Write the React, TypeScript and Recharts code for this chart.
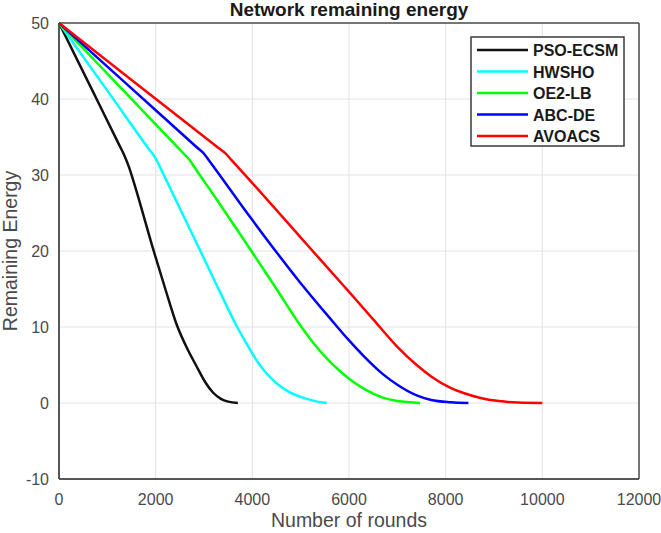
import React from "react";
import { LineChart, Line, XAxis, YAxis, CartesianGrid, Legend } from "recharts";

// ---- data ----
const ROUND_TICKS = [0, 2000, 4000, 6000, 8000, 10000, 12000];
const ENERGY_TICKS = [-10, 0, 10, 20, 30, 40, 50];

const SERIES_NAMES = ["PSO-ECSM", "HWSHO", "OE2-LB", "ABC-DE", "AVOACS"];
const SERIES_COLORS = ["#111111", "#00ffff", "#00ff00", "#0000ff", "#ff0000"];

const psoEcsmRounds = [0, 700, 1250, 1350, 1450, 1550, 1950, 2200, 2430, 2650, 2840, 3020, 3190, 3350, 3500, 3700];
const psoEcsmEnergy = [50, 41.0, 33.9, 32.6, 31.0, 29.0, 20.2, 15.0, 10.4, 7.2, 4.9, 2.8, 1.35, 0.55, 0.18, 0];

const hwshoRounds = [0, 1000, 1850, 2000, 2100, 2910, 3300, 3670, 3900, 4090, 4300, 4500, 4750, 5000, 5300, 5540];
const hwshoEnergy = [50, 41.1, 33.5, 32.2, 30.9, 20.2, 15.0, 10.2, 7.6, 5.6, 3.85, 2.6, 1.5, 0.8, 0.25, 0];

const oe2LbRounds = [0, 1350, 2550, 2700, 2800, 3260, 3980, 4500, 4984, 5300, 5640, 6000, 6330, 6700, 7000, 7470];
const oe2LbEnergy = [50, 41, 33, 32, 31.05, 26.8, 20.0, 15.0, 10.3, 7.6, 5.2, 3.2, 1.8, 0.7, 0.25, 0];

const abcDeRounds = [0, 1500, 2850, 3000, 3100, 3950, 4984, 5600, 6020, 6300, 6700, 7000, 7400, 7700, 8100, 8470];
const abcDeEnergy = [50, 41.4, 33.65, 32.8, 31.95, 24.5, 15.9, 11.2, 8.1, 6.2, 3.8, 2.4, 1.0, 0.4, 0.1, 0];

const avoacsRounds = [0, 1700, 3300, 3450, 3550, 3950, 4984, 5500, 6020, 6500, 7000, 7400, 7700, 8100, 8400, 8700, 9100, 9500, 10000];
const avoacsEnergy = [50, 41.5, 33.55, 32.8, 32.1, 29.3, 21.9, 18.2, 14.5, 11.0, 7.4, 5.0, 3.5, 2.0, 1.25, 0.7, 0.25, 0.06, 0];

const toPoints = (rounds: number[], energy: number[]) =>
  rounds.map((round, i) => ({ round, energy: energy[i] }));

const SERIES_DATA = [
  toPoints(psoEcsmRounds, psoEcsmEnergy),
  toPoints(hwshoRounds, hwshoEnergy),
  toPoints(oe2LbRounds, oe2LbEnergy),
  toPoints(abcDeRounds, abcDeEnergy),
  toPoints(avoacsRounds, avoacsEnergy),
];

const FONT = "'Liberation Sans', Arial, Helvetica, sans-serif";
const AXIS_COLOR = "#4d4d4d";
const TEXT_COLOR = "#4a4a4a";

const EmptyTick = () => <g />;

const LegendBox = () => (
  <svg width={156} height={112} style={{ display: "block" }}>
    <rect x={1} y={1} width={153} height={109} fill="#ffffff" stroke="#3a3a3a" strokeWidth={1.5} />
    {SERIES_NAMES.map((name, i) => {
      const cy = 14 + i * 21.5;
      return (
        <g key={name}>
          <line x1={7} x2={58} y1={cy} y2={cy} stroke={SERIES_COLORS[i]} strokeWidth={2.5} />
          <text x={63} y={cy + 6} fontFamily={FONT} fontWeight="bold" fontSize={16} fill="#1a1a1a">
            {name}
          </text>
        </g>
      );
    })}
  </svg>
);

export default function App() {
  return (
    <div style={{ position: "absolute", left: 0, top: 0, background: "#fff" }}>
      <LineChart
        width={661}
        height={533}
        margin={{ top: 23, right: 22, bottom: 0, left: 0 }}
        style={{ fontFamily: FONT }}
      >
        <CartesianGrid stroke="#e2e2e2" strokeWidth={1} />
        <XAxis
          dataKey="round"
          type="number"
          domain={[0, 12000]}
          ticks={ROUND_TICKS}
          height={54}
          tickLine={false}
          tickSize={0}
          tickMargin={15}
          stroke={AXIS_COLOR}
          strokeWidth={1.5}
          tick={{ fill: TEXT_COLOR, fontSize: 16, fontFamily: FONT }}
          label={{
            value: "Number of rounds",
            position: "insideBottom",
            offset: 6,
            fill: TEXT_COLOR,
            fontSize: 19.5,
            fontFamily: FONT,
          }}
        />
        <XAxis
          xAxisId="bottomTicks"
          dataKey="round"
          type="number"
          domain={[0, 12000]}
          ticks={ROUND_TICKS}
          orientation="bottom"
          mirror
          tick={EmptyTick}
          tickSize={6}
          stroke={AXIS_COLOR}
          strokeWidth={1.5}
        />
        <XAxis
          xAxisId="topTicks"
          dataKey="round"
          type="number"
          domain={[0, 12000]}
          ticks={ROUND_TICKS}
          orientation="top"
          mirror
          tick={EmptyTick}
          tickSize={6}
          stroke={AXIS_COLOR}
          strokeWidth={1.5}
        />
        <YAxis
          type="number"
          domain={[-10, 50]}
          ticks={ENERGY_TICKS}
          width={59}
          tickLine={false}
          tickSize={0}
          tickMargin={10}
          stroke={AXIS_COLOR}
          strokeWidth={1.5}
          tick={{ fill: TEXT_COLOR, fontSize: 16, fontFamily: FONT }}
          label={{
            value: "Remaining Energy",
            angle: -90,
            position: "insideLeft",
            offset: 10,
            fill: TEXT_COLOR,
            fontSize: 19.5,
            fontFamily: FONT,
            style: { textAnchor: "middle" },
          }}
        />
        <YAxis
          yAxisId="leftTicks"
          type="number"
          domain={[-10, 50]}
          ticks={ENERGY_TICKS}
          orientation="left"
          mirror
          tick={EmptyTick}
          tickSize={6}
          stroke={AXIS_COLOR}
          strokeWidth={1.5}
        />
        <YAxis
          yAxisId="rightTicks"
          type="number"
          domain={[-10, 50]}
          ticks={ENERGY_TICKS}
          orientation="right"
          mirror
          tick={EmptyTick}
          tickSize={6}
          stroke={AXIS_COLOR}
          strokeWidth={1.5}
        />
        {SERIES_DATA.map((data, i) => (
          <Line
            key={SERIES_NAMES[i]}
            data={data}
            dataKey="energy"
            name={SERIES_NAMES[i]}
            type="monotone"
            stroke={SERIES_COLORS[i]}
            strokeWidth={2.5}
            dot={false}
            activeDot={false}
            isAnimationActive={false}
          />
        ))}
        <Legend
          layout="vertical"
          align="center"
          verticalAlign="middle"
          content={LegendBox}
          wrapperStyle={{ left: 470, top: 36, width: 156, height: 112 }}
        />
        <text
          x={349}
          y={16}
          textAnchor="middle"
          fontFamily={FONT}
          fontWeight="bold"
          fontSize={19}
          fill="#1a1a1a"
        >
          Network remaining energy
        </text>
      </LineChart>
    </div>
  );
}
